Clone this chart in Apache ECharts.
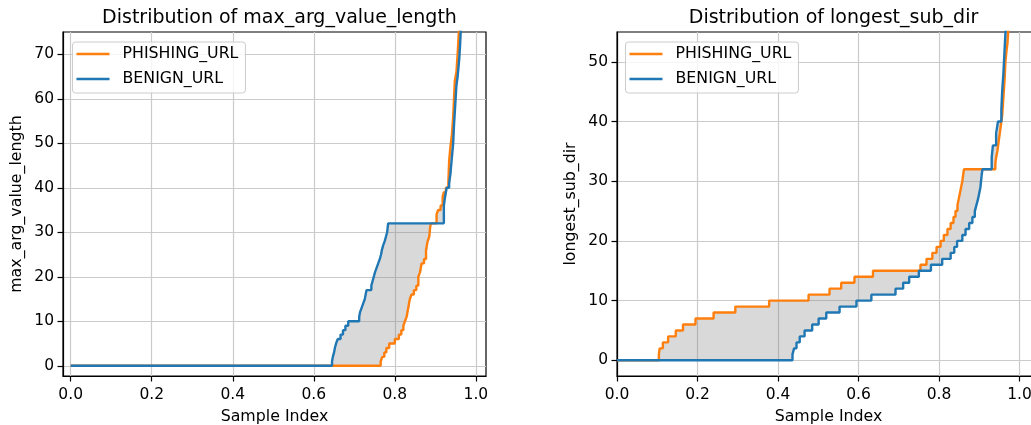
<!DOCTYPE html>
<html><head><meta charset="utf-8">
<script src="https://cdn.jsdelivr.net/npm/echarts@6/dist/echarts.min.js"></script>
<style>html,body{margin:0;padding:0;background:#fff}#c{width:1031px;height:425px}</style>
</head><body><div id="c"></div>
<script>
// ---- data (x = normalised sample index, y = value; step starts at x) ----
const seriesNames = ['PHISHING_URL', 'BENIGN_URL'];
const titles = ['Distribution of max_arg_value_length', 'Distribution of longest_sub_dir'];
const yNames = ['max_arg_value_length', 'longest_sub_dir'];
const xName = 'Sample Index';
const xTicks = [0, 0.2, 0.4, 0.6, 0.8, 1.0];
const argYTicks = [0, 10, 20, 30, 40, 50, 60, 70];
const subdirYTicks = [0, 10, 20, 30, 40, 50];

const argPhishing = [[0,0],[0.765,1],[0.769,2],[0.774,3],[0.779,4],[0.786,5],[0.800,6],[0.810,7],[0.816,8],[0.821,9],[0.825,10],[0.829,11],[0.833,13],[0.837,15],[0.841,16],[0.847,17],[0.853,18],[0.858,20],[0.862,21],[0.866,23],[0.872,24],[0.877,26],[0.881,28],[0.885,29],[0.887,31],[0.889,32],[0.903,34],[0.907,35],[0.913,36],[0.918,38],[0.921,39],[0.926,40],[0.932,41],[0.934,46],[0.937,49],[0.941,52],[0.944,56],[0.948,64],[0.952,66],[0.955,70],[0.958,75],[0.962,80]];
const argBenign = [[0,0],[0.645,1],[0.647,2],[0.650,3],[0.652,4],[0.655,5],[0.659,6],[0.666,7],[0.672,8],[0.678,9],[0.685,10],[0.712,11],[0.714,12],[0.718,13],[0.722,14],[0.726,15],[0.730,17],[0.742,18],[0.745,19],[0.748,20],[0.751,21],[0.755,22],[0.759,23],[0.763,24],[0.766,25],[0.768,26],[0.771,27],[0.775,28],[0.778,29],[0.781,30],[0.7835,32],[0.921,36],[0.924,38],[0.928,40],[0.934,41],[0.937,43],[0.940,46],[0.942,48],[0.944,50],[0.946,54],[0.948,57],[0.950,60],[0.952,63],[0.955,65],[0.957,67],[0.959,69],[0.961,72],[0.963,76],[0.966,85]];
const subdirPhishing = [[0,0],[0.104,1],[0.106,2],[0.114,3],[0.127,4],[0.146,5],[0.164,6],[0.195,7],[0.240,8],[0.294,9],[0.378,10],[0.476,11],[0.528,12],[0.557,13],[0.590,14],[0.636,15],[0.754,16],[0.769,17],[0.7835,18],[0.794,19],[0.804,20],[0.812,21],[0.821,22],[0.829,23],[0.836,24],[0.841,25],[0.846,26],[0.849,27],[0.852,28],[0.855,29],[0.858,30],[0.860,31],[0.862,32],[0.940,33],[0.942,34],[0.945,35],[0.947,36],[0.949,37],[0.951,38],[0.953,39],[0.955,40],[0.957,41],[0.959,43],[0.961,45],[0.963,47],[0.965,50],[0.968,52],[0.970,53],[0.972,55],[0.975,60]];
const subdirBenign = [[0,0],[0.436,1],[0.440,2],[0.446,3],[0.454,4],[0.466,5],[0.485,6],[0.501,7],[0.520,8],[0.553,9],[0.595,10],[0.632,11],[0.692,12],[0.711,13],[0.726,14],[0.750,15],[0.780,16],[0.808,17],[0.829,18],[0.838,19],[0.845,20],[0.858,21],[0.866,22],[0.875,23],[0.883,24],[0.889,25],[0.893,26],[0.897,27],[0.900,28],[0.903,29],[0.906,31],[0.908,32],[0.931,34],[0.934,36],[0.942,38],[0.9466,40],[0.955,42],[0.957,45],[0.960,48],[0.963,52],[0.966,56],[0.970,60]];

// ---- layout / style ----
const FONT = 'DejaVu Sans';
const COLORS = ['#ff7f0e', '#1f77b4'];
const grids = [
  {left: 63, top: 32, width: 423, height: 344},
  {left: 617, top: 32, width: 423, height: 344}
];
const xRanges = [[-0.019, 1.025], [0, 1.051]];
const yRanges = [[-2.3, 75], [-2.63, 55]];
const yTickSets = [argYTicks, subdirYTicks];
const panels = [[argPhishing, argBenign], [subdirPhishing, subdirBenign]];

function fillSeries(gi, a, b) {
  return {
    type: 'custom', xAxisIndex: gi, yAxisIndex: gi, clip: true, silent: true, z: 2,
    data: [[a[0][0], a[0][1]]], encode: {x: 0, y: 1},
    renderItem: function (params, api) {
      const stepPts = (arr) => {
        const out = [];
        for (let i = 0; i < arr.length; i++) {
          out.push(api.coord(arr[i]));
          if (i + 1 < arr.length) out.push(api.coord([arr[i + 1][0], arr[i][1]]));
        }
        return out;
      };
      const pts = stepPts(a).concat(stepPts(b).reverse());
      return {type: 'polygon', shape: {points: pts}, style: {fill: 'rgba(128,128,128,0.3)', stroke: null}};
    }
  };
}

const axisTextStyle = {fontFamily: FONT, fontSize: 15.5, color: '#000'};
const option = {
  animation: false,
  backgroundColor: '#fff',
  title: grids.map((g, i) => ({
    text: titles[i], left: g.left + g.width / 2, top: 4, textAlign: 'center',
    textStyle: {fontFamily: FONT, fontSize: 19, fontWeight: 'normal', color: '#000'}
  })),
  grid: grids.map(g => Object.assign({show: true, outerBoundsMode: 'none', containLabel: false, borderColor: '#000', borderWidth: 1.2, backgroundColor: 'transparent'}, g)),
  legend: grids.map((g, i) => ({
    left: g.left + (i === 0 ? 9.5 : 8.5), top: 42, orient: 'vertical', data: seriesNames,
    icon: 'rect', itemWidth: 33, itemHeight: 2.4, itemGap: 7,
    backgroundColor: 'rgba(255,255,255,0.8)', borderColor: '#cccccc', borderWidth: 1, borderRadius: 3,
    padding: [3, 7, 5, 4],
    textStyle: {fontFamily: FONT, fontSize: 15.8, color: '#000', lineHeight: 18, padding: [0, 0, 0, 8]}
  })),
  xAxis: grids.map((g, i) => ({
    type: 'value', gridIndex: i, min: xRanges[i][0], max: xRanges[i][1],
    name: xName, nameLocation: 'middle', nameGap: 33,
    nameTextStyle: {fontFamily: FONT, fontSize: 15.8, color: '#000'},
    axisLine: {show: true, onZero: false, lineStyle: {color: '#000', width: 1.2}},
    axisTick: {show: true, customValues: xTicks, length: 5.5, lineStyle: {color: '#000', width: 1.2}},
    axisLabel: Object.assign({customValues: xTicks, margin: 11, formatter: v => v.toFixed(1)}, axisTextStyle),
    splitLine: {show: true, lineStyle: {color: '#cbcbcb', width: 1.2}}
  })),
  yAxis: grids.map((g, i) => ({
    type: 'value', gridIndex: i, min: yRanges[i][0], max: yRanges[i][1],
    name: yNames[i], nameLocation: 'middle', nameGap: 38, nameRotate: 90,
    nameTextStyle: {fontFamily: FONT, fontSize: 15.8, color: '#000'},
    axisLine: {show: true, onZero: false, lineStyle: {color: '#000', width: 1.2}},
    axisTick: {show: true, customValues: yTickSets[i], length: 5.5, lineStyle: {color: '#000', width: 1.2}},
    axisLabel: Object.assign({customValues: yTickSets[i], margin: 9}, axisTextStyle),
    splitLine: {show: true, lineStyle: {color: '#cbcbcb', width: 1.2}}
  })),
  series: []
};
panels.forEach((pair, gi) => {
  option.series.push(fillSeries(gi, pair[0], pair[1]));
  pair.forEach((data, si) => {
    option.series.push({
      type: 'line', name: seriesNames[si], xAxisIndex: gi, yAxisIndex: gi, data: data,
      step: 'end', symbol: 'none', showSymbol: false, clip: true, z: 3 + si,
      lineStyle: {color: COLORS[si], width: 2.4}, itemStyle: {color: COLORS[si]}
    });
  });
});
const chart = echarts.init(document.getElementById('c'), null, {renderer: 'canvas'});
chart.setOption(option);
</script></body></html>
